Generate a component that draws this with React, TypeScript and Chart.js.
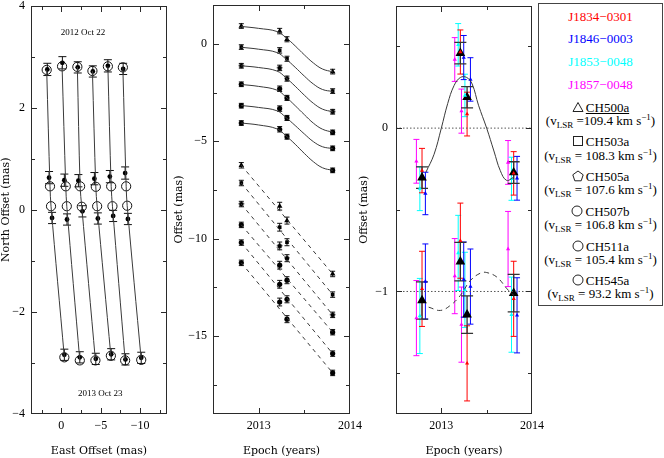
import React, { useEffect, useRef } from "react";
import { Chart, registerables } from "chart.js";

Chart.register(...registerables);

// ================= DATA =================
// Panel 1: sky-plane tracks (East / North offset, mas)
const p1ModelEast = [
  [1.86, 1.44, 1.31, -0.38],
  [-0.09, -0.56, -0.69, -2.34],
  [-2.03, -2.38, -2.59, -4.32],
  [-3.94, -4.37, -4.54, -6.28],
  [-5.9, -6.32, -6.48, -8.09],
  [-7.8, -8.22, -8.35, -10.13],
];
const p1ModelNorth = [
  [2.74, 0.46, 0.07, -2.89],
  [2.81, 0.46, 0.07, -2.95],
  [2.8, 0.46, 0.06, -2.95],
  [2.72, 0.45, 0.07, -2.86],
  [2.81, 0.46, 0.07, -2.95],
  [2.79, 0.46, 0.08, -2.94],
];
const p1ObsEast = [
  [1.78, 1.56, 1.18, -0.38],
  [-0.13, -0.38, -0.72, -2.34],
  [-2.08, -2.16, -2.67, -4.37],
  [-3.99, -4.19, -4.63, -6.32],
  [-5.9, -6.15, -6.57, -8.13],
  [-7.84, -8.09, -8.44, -10.13],
];
const p1ObsNorth = [
  [2.75, 0.63, -0.16, -2.84],
  [2.88, 0.58, -0.19, -2.89],
  [2.79, 0.57, -0.03, -2.92],
  [2.71, 0.61, -0.17, -2.83],
  [2.82, 0.65, -0.12, -2.93],
  [2.76, 0.72, -0.18, -2.9],
];
const p1ObsErr = [
  [0.12, 0.12, 0.11, 0.11],
  [0.12, 0.12, 0.11, 0.11],
  [0.11, 0.12, 0.11, 0.11],
  [0.11, 0.12, 0.11, 0.11],
  [0.12, 0.12, 0.11, 0.11],
  [0.11, 0.12, 0.11, 0.11],
];
const p1Notes = ["2012 Oct 22", "2013 Oct 23"];
const p1NoteEast = [-2.76, -4.92];
const p1NoteNorth = [3.47, -3.61];
const p1XTicks = [2.5, 0, -2.5, -5, -7.5, -10, -12.5];
const p1XLabels = [0, -5, -10];
const p1YTicks = [4, 3, 2, 1, 0, -1, -2, -3, -4];
const p1YLabels = [4, 2, 0, -2, -4];

// Panel 2: offsets vs epoch
const p2Epochs = [2012.81, 2013.23, 2013.31, 2013.81];
const p2North = [
  [0.92, 0.66, 0.24, -1.42],
  [-0.16, -0.33, -0.76, -2.42],
  [-1.12, -1.23, -1.78, -3.48],
  [-2.07, -2.3, -2.77, -4.54],
  [-3.17, -3.32, -3.8, -5.36],
  [-4.06, -4.38, -4.76, -6.49],
];
const p2East = [
  [-6.23, -8.33, -9.07, -11.81],
  [-7.14, -9.41, -10.18, -12.87],
  [-8.22, -10.37, -11.0, -13.91],
  [-9.29, -11.36, -12.13, -14.8],
  [-10.2, -12.34, -13.11, -15.9],
  [-11.24, -13.25, -14.13, -16.89],
];
const p2NorthErr = [
  [0.12, 0.14, 0.13, 0.12],
  [0.12, 0.14, 0.13, 0.12],
  [0.12, 0.14, 0.13, 0.12],
  [0.12, 0.14, 0.13, 0.12],
  [0.12, 0.14, 0.13, 0.12],
  [0.12, 0.14, 0.13, 0.12],
];
const p2EastErr = [
  [0.14, 0.2, 0.18, 0.14],
  [0.14, 0.2, 0.18, 0.14],
  [0.14, 0.2, 0.18, 0.14],
  [0.14, 0.2, 0.18, 0.14],
  [0.14, 0.2, 0.18, 0.14],
  [0.14, 0.2, 0.18, 0.14],
];
const p2ModelEpochs = [2012.81, 2013.0, 2013.2, 2013.3, 2013.4, 2013.5, 2013.6, 2013.7, 2013.81];
const p2ModelNorth = [
  [0.9, 0.8, 0.64, 0.32, -0.1, -0.56, -0.98, -1.29, -1.43],
  [-0.17, -0.27, -0.44, -0.78, -1.2, -1.65, -2.06, -2.34, -2.44],
  [-1.12, -1.21, -1.39, -1.74, -2.17, -2.63, -3.05, -3.35, -3.48],
  [-2.08, -2.18, -2.37, -2.73, -3.17, -3.63, -4.07, -4.38, -4.53],
  [-3.16, -3.26, -3.43, -3.78, -4.19, -4.62, -5.02, -5.28, -5.37],
  [-4.06, -4.16, -4.36, -4.72, -5.15, -5.62, -6.05, -6.36, -6.49],
];
const p2ModelEastEpochs = [2012.81, 2013.81];
const p2ModelEast = [
  [-6.23, -11.81],
  [-7.14, -12.87],
  [-8.22, -13.91],
  [-9.29, -14.8],
  [-10.2, -15.9],
  [-11.24, -16.89],
];
const p2XTicks = [2013, 2013.5, 2014];
const p2XLabels = [2013, 2014];
const p2YTicks = [0, -2.5, -5, -7.5, -10, -12.5, -15, -17.5];
const p2YLabels = [0, -5, -10, -15];

// Panel 3: residuals per background source
const sourceNames = ["J1834\u22120301", "J1846\u22120003", "J1853\u22120048", "J1857\u22120048"];
const sourceColors = ["#ff0000", "#0000ff", "#00ffff", "#ff00ff"];
const sourceEpochShift = [0, 0.037, -0.024, -0.062];
const p3Epochs = [2012.787, 2013.21, 2013.284, 2013.798];
const p3NorthRes = [
  [-0.26, 0.466, 0.086, -0.277],
  [-0.4, 0.432, 0.298, -0.307],
  [-0.37, 0.51, 0.2, -0.31],
  [-0.203, 0.42, 0.104, -0.21],
];
const p3NorthResErr = [
  [0.136, 0.135, 0.134, 0.133],
  [0.13, 0.135, 0.133, 0.134],
  [0.135, 0.13, 0.13, 0.132],
  [0.134, 0.134, 0.135, 0.134],
];
const p3EastRes = [
  [-0.984, -0.689, -1.44, -1.045],
  [-0.939, -0.927, -0.97, -1.146],
  [-1.15, -0.764, -0.99, -1.142],
  [-1.163, -0.906, -1.203, -0.74],
];
const p3EastResErr = [
  [0.23, 0.23, 0.23, 0.23],
  [0.23, 0.23, 0.23, 0.23],
  [0.23, 0.23, 0.23, 0.23],
  [0.23, 0.23, 0.23, 0.23],
];
const p3AvgNorth = [-0.303, 0.459, 0.189, -0.272];
const p3AvgNorthErr = [0.066, 0.066, 0.065, 0.066];
const p3AvgEast = [-1.055, -0.817, -1.142, -1.01];
const p3AvgEastErr = [0.114, 0.118, 0.115, 0.115];
const p3ModelNorthEpochs = [2012.83, 2012.92, 2013.0, 2013.07, 2013.14, 2013.21, 2013.28, 2013.34, 2013.41, 2013.5, 2013.58, 2013.65, 2013.72, 2013.8];
const p3ModelNorth = [-0.27, -0.16, 0.0, 0.15, 0.26, 0.31, 0.31, 0.27, 0.14, 0.0, -0.14, -0.26, -0.32, -0.3];
const p3ModelEastEpochs = [2012.86, 2012.99, 2013.1, 2013.21, 2013.32, 2013.43, 2013.5, 2013.615, 2013.725, 2013.8];
const p3ModelEast = [-1.096, -1.116, -1.085, -1.024, -0.933, -0.888, -0.884, -0.913, -0.984, -1.024];
const p3RefLevels = [0, -1];
const p3XTicks = [2013, 2013.5, 2014];
const p3XLabels = [2013, 2014];
const p3YTicks = [0.5, 0, -0.5, -1, -1.5];
const p3YLabels = [0, -1];

// Maser spots (legend)
const spotNames = ["CH500a", "CH503a", "CH505a", "CH507b", "CH511a", "CH545a"];
const spotVlsr = ["109.4", "108.3", "107.6", "106.8", "105.4", "93.2"];
const spotSymbols = ["triangle", "square", "pentagon", "circle", "circle", "circle"];

// ================= STYLE =================
const TICK_FONT = { family: "'Liberation Serif', 'DejaVu Serif', serif", size: 12 };
const TITLE_FONT = { family: "'DejaVu Serif', serif", size: 11, lineHeight: 1 };
const NOTE_FONT = "9px 'Liberation Serif', serif";
const LEG_FONT = "'Liberation Serif', 'DejaVu Serif', serif";
const FRAME = "#2a2a2a";
const CURVE = "#3a3a3a";

function fmt(v: number): string {
  return (v < 0 ? "\u2212" : "") + String(Math.abs(v));
}

function makeAxis(o: any) {
  return {
    type: "linear",
    position: o.position,
    min: o.min,
    max: o.max,
    reverse: !!o.reverse,
    bounds: "data",
    afterBuildTicks: (s: any) => {
      s.ticks = o.ticks.map((v: number) => ({ value: v }));
    },
    afterFit: (s: any) => {
      if (o.width !== undefined) s.width = o.width;
      if (o.height !== undefined) s.height = o.height;
      s.paddingLeft = 0;
      s.paddingRight = 0;
      s.paddingTop = 0;
      s.paddingBottom = 0;
    },
    grid: { display: false, drawTicks: false },
    border: { display: false },
    ticks: {
      autoSkip: false,
      maxRotation: 0,
      minRotation: 0,
      padding: o.pad,
      color: "#000",
      font: TICK_FONT,
      callback: (v: any) =>
        o.labels.some((l: number) => Math.abs(l - Number(v)) < 1e-9) ? fmt(Number(v)) : "",
    },
    title: {
      display: true,
      text: o.title,
      color: "#000",
      font: TITLE_FONT,
      padding: { top: o.titlePad, bottom: o.titlePad },
    },
  };
}

const errPlugin = {
  id: "errbars",
  beforeDatasetsDraw(chart: any) {
    const { ctx } = chart;
    const xs = chart.scales.x;
    const ys = chart.scales.y;
    const a = chart.chartArea;
    ctx.save();
    ctx.beginPath();
    ctx.rect(a.left, a.top, a.right - a.left, a.bottom - a.top);
    ctx.clip();
    chart.data.datasets.forEach((ds: any) => {
      if (!ds.yErr) return;
      ctx.strokeStyle = ds.errColor;
      ctx.lineWidth = ds.errWidth || 1;
      ctx.beginPath();
      ds.data.forEach((pt: any, j: number) => {
        const e = ds.yErr[j];
        const x = xs.getPixelForValue(pt.x);
        const y1 = ys.getPixelForValue(pt.y + e);
        const y2 = ys.getPixelForValue(pt.y - e);
        const c = ds.errCap;
        ctx.moveTo(x, y1);
        ctx.lineTo(x, y2);
        ctx.moveTo(x - c, y1);
        ctx.lineTo(x + c, y1);
        ctx.moveTo(x - c, y2);
        ctx.lineTo(x + c, y2);
      });
      ctx.stroke();
    });
    ctx.restore();
  },
};

const framePlugin = {
  id: "pgframe",
  afterDatasetsDraw(chart: any) {
    const { ctx } = chart;
    const a = chart.chartArea;
    const xs = chart.scales.x;
    const ys = chart.scales.y;
    const L = Math.round(a.left), R = Math.round(a.right), T = Math.round(a.top), B = Math.round(a.bottom);
    ctx.save();
    ctx.strokeStyle = FRAME;
    ctx.lineWidth = 1;
    ctx.strokeRect(L + 0.5, T + 0.5, R - L - 1, B - T - 1);
    ctx.beginPath();
    for (const t of xs.ticks) {
      const p = Math.round(xs.getPixelForValue(t.value)) + 0.5;
      if (p <= L + 2 || p >= R - 2) continue;
      const len = t.label ? 6 : 4;
      ctx.moveTo(p, B);
      ctx.lineTo(p, B - len);
      ctx.moveTo(p, T);
      ctx.lineTo(p, T + len);
    }
    for (const t of ys.ticks) {
      const p = Math.round(ys.getPixelForValue(t.value)) + 0.5;
      if (p <= T + 2 || p >= B - 2) continue;
      const len = t.label ? 6 : 4;
      ctx.moveTo(L, p);
      ctx.lineTo(L + len, p);
      ctx.moveTo(R, p);
      ctx.lineTo(R - len, p);
    }
    ctx.stroke();
    ctx.restore();
  },
};

const notesPlugin = {
  id: "notes",
  afterDatasetsDraw(chart: any, _args: any, opts: any) {
    if (!opts || !opts.texts) return;
    const { ctx } = chart;
    const xs = chart.scales.x;
    const ys = chart.scales.y;
    ctx.save();
    ctx.fillStyle = "#000";
    ctx.font = NOTE_FONT;
    ctx.textAlign = "center";
    ctx.textBaseline = "middle";
    opts.texts.forEach((t: string, i: number) => {
      ctx.fillText(t, xs.getPixelForValue(opts.xs[i]), ys.getPixelForValue(opts.ys[i]));
    });
    ctx.restore();
  },
};

function baseOptions(padRight: number, extraPlugins: any = {}) {
  return {
    responsive: false,
    maintainAspectRatio: false,
    animation: false,
    devicePixelRatio: 1,
    events: [],
    layout: { padding: { left: 0, top: 5, right: padRight, bottom: 0 } },
    plugins: { legend: { display: false }, tooltip: { enabled: false }, ...extraPlugins },
  };
}

function pentagonImage(r: number): HTMLCanvasElement {
  const c = document.createElement("canvas");
  const s = Math.ceil(r * 2 + 2);
  c.width = s;
  c.height = s;
  const g = c.getContext("2d") as CanvasRenderingContext2D;
  g.beginPath();
  for (let i = 0; i < 5; i++) {
    const ang = -Math.PI / 2 + (i * 2 * Math.PI) / 5;
    const px = s / 2 + r * Math.cos(ang);
    const py = s / 2 + r * Math.sin(ang);
    if (i === 0) g.moveTo(px, py);
    else g.lineTo(px, py);
  }
  g.closePath();
  g.fillStyle = "#000";
  g.fill();
  return c;
}

function spotPointStyle(i: number, pent: HTMLCanvasElement): any {
  const s = spotSymbols[i];
  if (s === "triangle") return { style: "triangle", r: 3.2 };
  if (s === "square") return { style: "rect", r: 2.6 };
  if (s === "pentagon") return { style: pent, r: 2.6 };
  return { style: "circle", r: 2.6 };
}

// ================= PANELS =================
function panel1Config() {
  const datasets: any[] = [];
  p1ModelEast.forEach((ex, i) => {
    datasets.push({
      data: ex.map((x, j) => ({ x, y: p1ModelNorth[i][j] })),
      showLine: true,
      tension: 0.35,
      borderColor: CURVE,
      borderWidth: 1,
      pointRadius: 0,
    });
  });
  p1ModelEast.forEach((ex, i) => {
    datasets.push({
      data: ex.map((x, j) => ({ x, y: p1ModelNorth[i][j] })),
      showLine: false,
      pointStyle: "circle",
      pointRadius: 4.6,
      pointBorderWidth: 1,
      pointBorderColor: "#111",
      pointBackgroundColor: "rgba(0,0,0,0)",
    });
  });
  p1ObsEast.forEach((ex, i) => {
    datasets.push({
      data: ex.map((x, j) => ({ x, y: p1ObsNorth[i][j] })),
      showLine: false,
      pointStyle: "circle",
      pointRadius: 2.4,
      pointBorderWidth: 0,
      pointBackgroundColor: "#000",
      yErr: p1ObsErr[i],
      errCap: 4,
      errColor: "#111",
    });
  });
  return {
    type: "scatter",
    data: { datasets },
    options: {
      ...baseOptions(9, { notes: { texts: p1Notes, xs: p1NoteEast, ys: p1NoteNorth } }),
      scales: {
        x: makeAxis({ position: "bottom", min: -13.4, max: 3.85, reverse: true, ticks: p1XTicks, labels: p1XLabels, title: "East Offset (mas)", height: 44, pad: 5, titlePad: 1.5 }),
        y: makeAxis({ position: "left", min: -4, max: 4, ticks: p1YTicks, labels: p1YLabels, title: "North Offset (mas)", width: 31, pad: 6, titlePad: 0.5 }),
      },
    },
    plugins: [errPlugin, framePlugin, notesPlugin],
  };
}

function panel2Config(pent: HTMLCanvasElement) {
  const datasets: any[] = [];
  p2ModelNorth.forEach((vals) => {
    datasets.push({
      data: vals.map((y, j) => ({ x: p2ModelEpochs[j], y })),
      showLine: true,
      tension: 0.4,
      borderColor: CURVE,
      borderWidth: 1,
      pointRadius: 0,
    });
  });
  p2ModelEast.forEach((vals) => {
    datasets.push({
      data: vals.map((y, j) => ({ x: p2ModelEastEpochs[j], y })),
      showLine: true,
      borderColor: CURVE,
      borderWidth: 1,
      borderDash: [4, 4],
      pointRadius: 0,
    });
  });
  const addPts = (vals: number[], err: number[], i: number) => {
    const ps = spotPointStyle(i, pent);
    datasets.push({
      data: vals.map((y, j) => ({ x: p2Epochs[j], y })),
      showLine: false,
      pointStyle: ps.style,
      pointRadius: ps.r,
      pointBorderWidth: 0,
      pointBackgroundColor: "#000",
      pointBorderColor: "#000",
      yErr: err,
      errCap: 2.5,
      errColor: "#111",
    });
  };
  p2North.forEach((v, i) => addPts(v, p2NorthErr[i], i));
  p2East.forEach((v, i) => addPts(v, p2EastErr[i], i));
  return {
    type: "scatter",
    data: { datasets },
    options: {
      ...baseOptions(16),
      scales: {
        x: makeAxis({ position: "bottom", min: 2012.5, max: 2014, ticks: p2XTicks, labels: p2XLabels, title: "Epoch (years)", height: 44, pad: 5, titlePad: 1.5 }),
        y: makeAxis({ position: "left", min: -19, max: 2, ticks: p2YTicks, labels: p2YLabels, title: "Offset (mas)", width: 40, pad: 6, titlePad: 0.5 }),
      },
    },
    plugins: [errPlugin, framePlugin],
  };
}

function panel3Config() {
  const datasets: any[] = [];
  p3RefLevels.forEach((lv) => {
    datasets.push({
      data: [{ x: 2012.5, y: lv }, { x: 2014, y: lv }],
      showLine: true,
      borderColor: "#555",
      borderWidth: 1,
      borderDash: [1.5, 2],
      pointRadius: 0,
    });
  });
  datasets.push({
    data: p3ModelNorth.map((y, j) => ({ x: p3ModelNorthEpochs[j], y })),
    showLine: true,
    tension: 0.4,
    borderColor: CURVE,
    borderWidth: 1,
    pointRadius: 0,
  });
  datasets.push({
    data: p3ModelEast.map((y, j) => ({ x: p3ModelEastEpochs[j], y })),
    showLine: true,
    tension: 0.4,
    borderColor: CURVE,
    borderWidth: 1,
    borderDash: [5, 4],
    pointRadius: 0,
  });
  const order = [3, 2, 0, 1];
  order.forEach((k) => {
    [[p3NorthRes[k], p3NorthResErr[k]], [p3EastRes[k], p3EastResErr[k]]].forEach(([vals, errs]) => {
      datasets.push({
        data: vals.map((y: number, j: number) => ({ x: p3Epochs[j] + sourceEpochShift[k], y })),
        showLine: false,
        pointStyle: "triangle",
        pointRadius: 2.4,
        pointBorderWidth: 0,
        pointBackgroundColor: sourceColors[k],
        yErr: errs,
        errCap: 3,
        errColor: sourceColors[k],
      });
    });
  });
  [[p3AvgNorth, p3AvgNorthErr], [p3AvgEast, p3AvgEastErr]].forEach(([vals, errs]) => {
    datasets.push({
      data: vals.map((y: number, j: number) => ({ x: p3Epochs[j], y })),
      showLine: false,
      pointStyle: "triangle",
      pointRadius: 5.6,
      pointBorderWidth: 0,
      pointBackgroundColor: "#000",
      yErr: errs,
      errCap: 6,
      errColor: "#333",
      errWidth: 1.3,
    });
  });
  return {
    type: "scatter",
    data: { datasets },
    options: {
      ...baseOptions(26),
      scales: {
        x: makeAxis({ position: "bottom", min: 2012.5, max: 2014, ticks: p3XTicks, labels: p3XLabels, title: "Epoch (years)", height: 44, pad: 5, titlePad: 1.5 }),
        y: makeAxis({ position: "left", min: -1.75, max: 0.75, ticks: p3YTicks, labels: p3YLabels, title: "Offset (mas)", width: 38, pad: 8, titlePad: 0.5 }),
      },
    },
    plugins: [errPlugin, framePlugin],
  };
}

// ================= LEGEND =================
function LegendSymbol({ kind }: { kind: string }) {
  const common = { fill: "none", stroke: "#222", strokeWidth: 1 };
  let shape: any;
  if (kind === "triangle") shape = <polygon points="6,1.5 11,10.5 1,10.5" {...common} />;
  else if (kind === "square") shape = <rect x="1.5" y="1.5" width="9" height="9" {...common} />;
  else if (kind === "pentagon") shape = <polygon points="6,1 11.2,4.8 9.2,10.8 2.8,10.8 0.8,4.8" {...common} />;
  else shape = <circle cx="6" cy="6" r="5" {...common} />;
  return (
    <svg width={12} height={12} style={{ verticalAlign: "-1px", marginRight: 2 }}>
      {shape}
    </svg>
  );
}

const srcRowTop = 12.7;
const srcRowStep = 22.6;
const spotRowTop = 103.7;
const spotRowStep = 34.7;
const vlsrGap = 13.2;

function Legend() {
  const row = (top: number, content: any, key: string, color = "#000") => (
    <div
      key={key}
      style={{
        position: "absolute",
        left: 0,
        width: "100%",
        top: top - 8,
        height: 16,
        lineHeight: "16px",
        textAlign: "center",
        fontFamily: LEG_FONT,
        fontSize: 13,
        whiteSpace: "nowrap",
        color,
      }}
    >
      {content}
    </div>
  );
  const rows: any[] = [];
  sourceNames.forEach((n, i) => rows.push(row(srcRowTop + i * srcRowStep, n, "s" + i, sourceColors[i])));
  spotNames.forEach((n, i) => {
    const y = spotRowTop + i * spotRowStep;
    rows.push(
      row(
        y,
        <span>
          <LegendSymbol kind={spotSymbols[i]} />
          <span style={{ textDecoration: i === 0 ? "underline" : "none" }}>{n}</span>
        </span>,
        "n" + i
      )
    );
    rows.push(
      row(
        y + vlsrGap,
        <span>
          (v
          <span style={{ fontSize: 9, position: "relative", top: 3 }}>LSR</span>
          {i === 0 ? " =" : " = "}
          {spotVlsr[i]} km s
          <span style={{ fontSize: 9, position: "relative", top: -5 }}>{"\u22121"}</span>)
        </span>,
        "v" + i
      )
    );
  });
  return (
    <div
      style={{
        position: "absolute",
        left: 538,
        top: 3,
        width: 125,
        height: 303,
        boxSizing: "border-box",
        border: "1px solid #444",
        background: "#fff",
      }}
    >
      {rows}
    </div>
  );
}

// ================= APP =================
export default function App() {
  const r1 = useRef<HTMLCanvasElement>(null);
  const r2 = useRef<HTMLCanvasElement>(null);
  const r3 = useRef<HTMLCanvasElement>(null);
  useEffect(() => {
    const pent = pentagonImage(2.8);
    const charts = [
      new Chart(r1.current as any, panel1Config() as any),
      new Chart(r2.current as any, panel2Config(pent) as any),
      new Chart(r3.current as any, panel3Config() as any),
    ];
    return () => charts.forEach((c) => c.destroy());
  }, []);
  return (
    <div style={{ position: "absolute", left: 0, top: 0, width: 664, height: 458, background: "#fff", overflow: "hidden" }}>
      <canvas ref={r1} width={176} height={458} style={{ position: "absolute", left: 0, top: 0 }} />
      <canvas ref={r2} width={193} height={458} style={{ position: "absolute", left: 173, top: 0 }} />
      <canvas ref={r3} width={200} height={458} style={{ position: "absolute", left: 358, top: 0 }} />
      <Legend />
    </div>
  );
}
